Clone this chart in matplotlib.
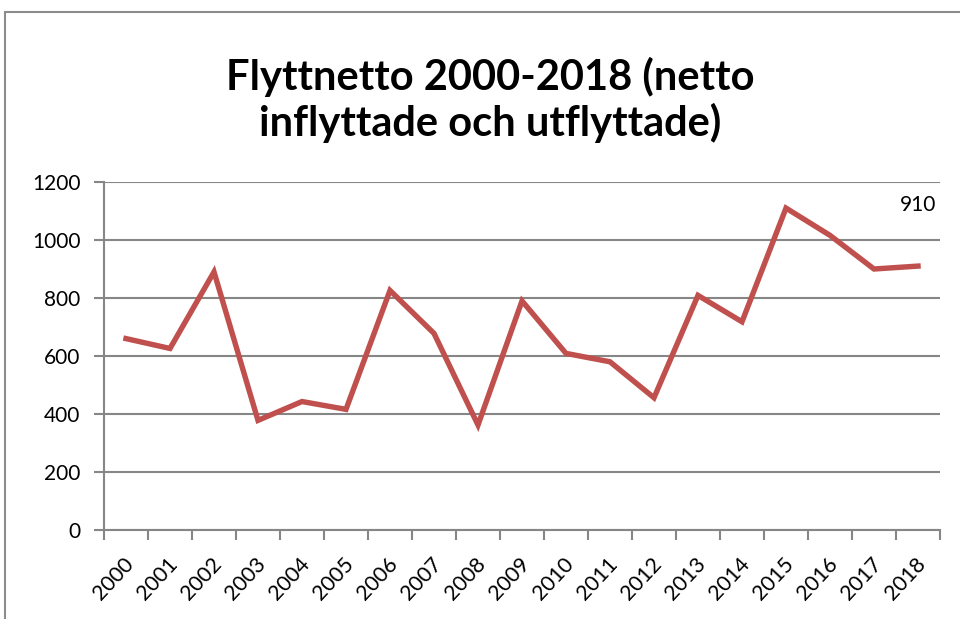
import matplotlib.pyplot as plt
import matplotlib.transforms as mtransforms
from matplotlib.patches import Rectangle

years = [str(y) for y in range(2000, 2019)]
netto = [660, 626, 890, 378, 443, 416, 826, 678, 362, 790,
         609, 580, 456, 809, 718, 1110, 1016, 900, 910]
y_ticks = [0, 200, 400, 600, 800, 1000, 1200]

font_main = ['Lato', 'DejaVu Sans']
line_color = '#C0504D'
grid_color = '#868686'

fig = plt.figure(figsize=(9.6, 6.19), dpi=100, facecolor='w')
# chart border (only top/left edges visible in crop)
fig.patches.append(Rectangle((5 / 960, -0.1), 1.2, 1 - 12 / 619 + 0.1,
                             transform=fig.transFigure, fill=False,
                             edgecolor='#8c8c8c', linewidth=1.5))

ax = fig.add_axes([104 / 960, 1 - 530 / 619, 836 / 960, 348 / 619])
x = list(range(len(years)))
ax.plot(x, netto, color=line_color, linewidth=3.9, solid_joinstyle='miter')

ax.set_xlim(-0.5, len(years) - 0.5)
ax.set_ylim(0, 1200)
ax.set_yticks(y_ticks)
ax.set_yticklabels([str(v) for v in y_ticks], family=font_main, fontsize=15)
ax.yaxis.grid(True, color=grid_color, linewidth=1.5)
ax.set_axisbelow(True)

# category ticks at boundaries, labels at centres
ax.set_xticks([i - 0.5 for i in range(len(years) + 1)])
ax.set_xticklabels([])
ax.set_xticks(x, minor=True)
ax.set_xticklabels(years, minor=True, rotation=47, ha='right', va='center',
                   rotation_mode='anchor', family=font_main, fontsize=15.5)
ax.tick_params(axis='x', which='minor', length=0, pad=22)
ax.tick_params(axis='x', which='major', length=7, width=1.5, color=grid_color)
ax.tick_params(axis='y', length=7, width=1.5, color=grid_color, pad=10)

shift = mtransforms.ScaledTranslation(4 / 100, 0, fig.dpi_scale_trans)
for lbl in ax.get_xticklabels(minor=True):
    lbl.set_transform(lbl.get_transform() + shift)

for side in ['top', 'right']:
    ax.spines[side].set_visible(False)
for side in ['left', 'bottom']:
    ax.spines[side].set_color(grid_color)
    ax.spines[side].set_linewidth(1.5)

ax.annotate(str(netto[-1]), xy=(x[-1], 1200), xytext=(0, -24),
            textcoords='offset points', ha='center', va='bottom',
            family=font_main, fontsize=15, annotation_clip=False)

fig.text(490 / 960, 1 - 100 / 619,
         'Flyttnetto 2000-2018 (netto\ninflyttade och utflyttade)',
         ha='center', va='center', fontsize=30, fontweight='bold',
         family=font_main, linespacing=1.2)

fig.savefig('out.png', dpi=100)
